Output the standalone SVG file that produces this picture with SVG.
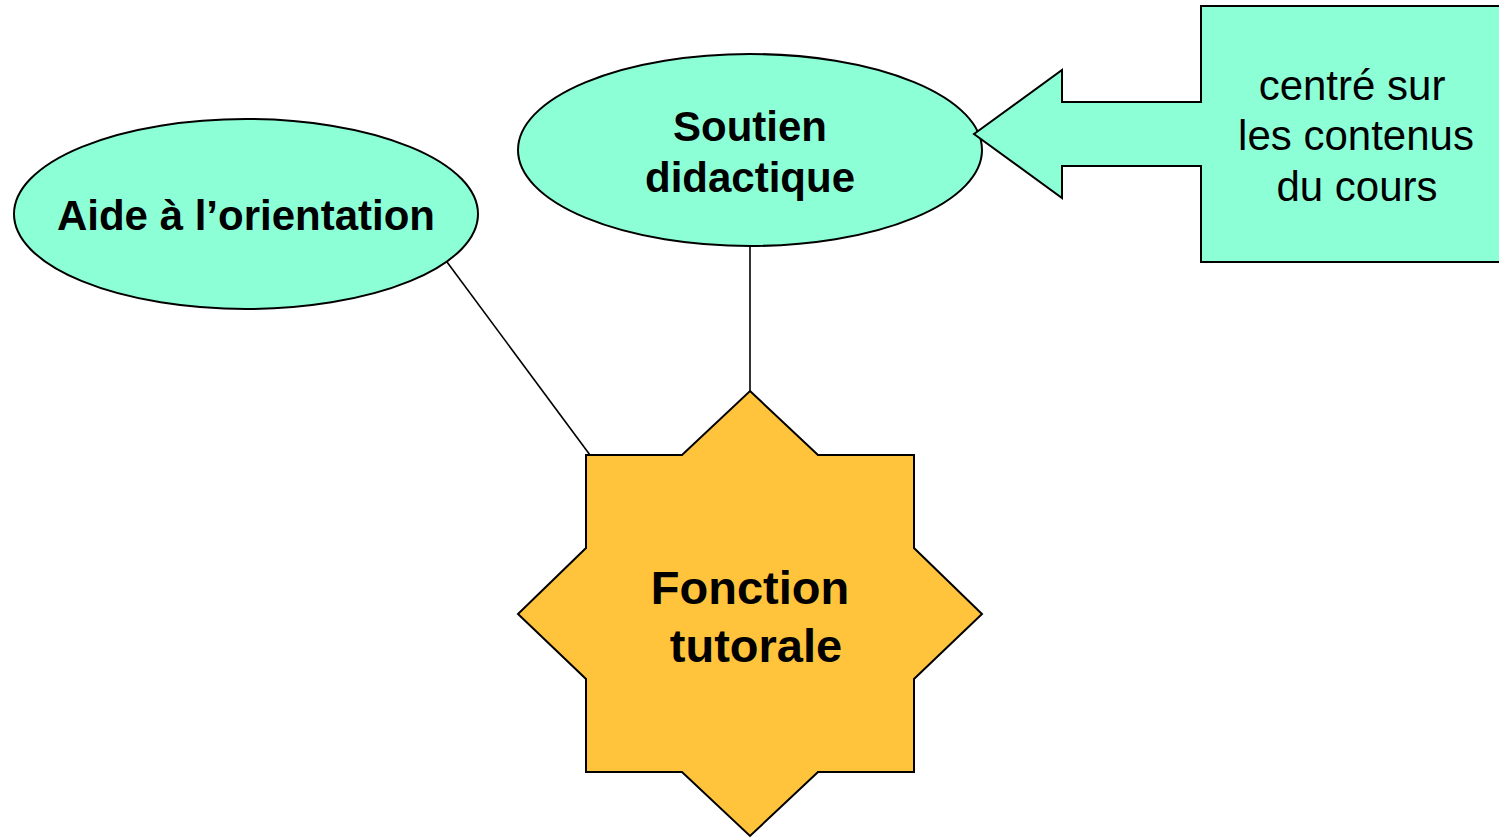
<svg xmlns="http://www.w3.org/2000/svg" width="1499" height="838" viewBox="0 0 1499 838">
<style>
.mint{fill:#8CFFD7;stroke:#000;stroke-width:2}
.star{fill:#FFC43C;stroke:#000;stroke-width:2}
.b{font-family:"Liberation Sans",Arial,sans-serif;font-weight:bold;font-size:42px;fill:#000;text-anchor:middle}
.big{font-size:47px}
.r{font-family:"Liberation Sans",Arial,sans-serif;font-size:42px;fill:#000;text-anchor:middle}
.conn{stroke:#000;stroke-width:1.6;fill:none}
</style>
<rect width="1499" height="838" fill="#fff"/>
<g id="connectors">
<line class="conn" x1="447" y1="262" x2="590" y2="455"/>
<line class="conn" x1="750" y1="246" x2="750" y2="391"/>
</g>
<g id="aide">
<ellipse class="mint" cx="246" cy="214" rx="232" ry="95"/>
<text class="b" x="246" y="230">Aide à l’orientation</text>
</g>
<g id="soutien">
<ellipse class="mint" cx="750" cy="150" rx="232" ry="96"/>
<text class="b" x="750" y="141">Soutien</text>
<text class="b" x="750" y="192">didactique</text>
</g>
<g id="fonction">
<polygon class="star" points="750,391 818,455 914,455 914,548 982,614 914,679 914,772 818,772 750,836 682,772 586,772 586,679 518,614 586,548 586,455 682,455"/>
<text class="b big" x="750" y="604">Fonction</text>
<text class="b big" x="756" y="662">tutorale</text>
</g>
<g id="callout">
<path class="mint" d="M1501,6 H1201 V102 H1062 V70 L974,134 L1062,198 V166 H1201 V262 H1501"/>
<text class="r" x="1352" y="100">centré sur</text>
<text class="r" x="1356" y="150">les contenus</text>
<text class="r" x="1357" y="201">du cours</text>
</g>
</svg>
